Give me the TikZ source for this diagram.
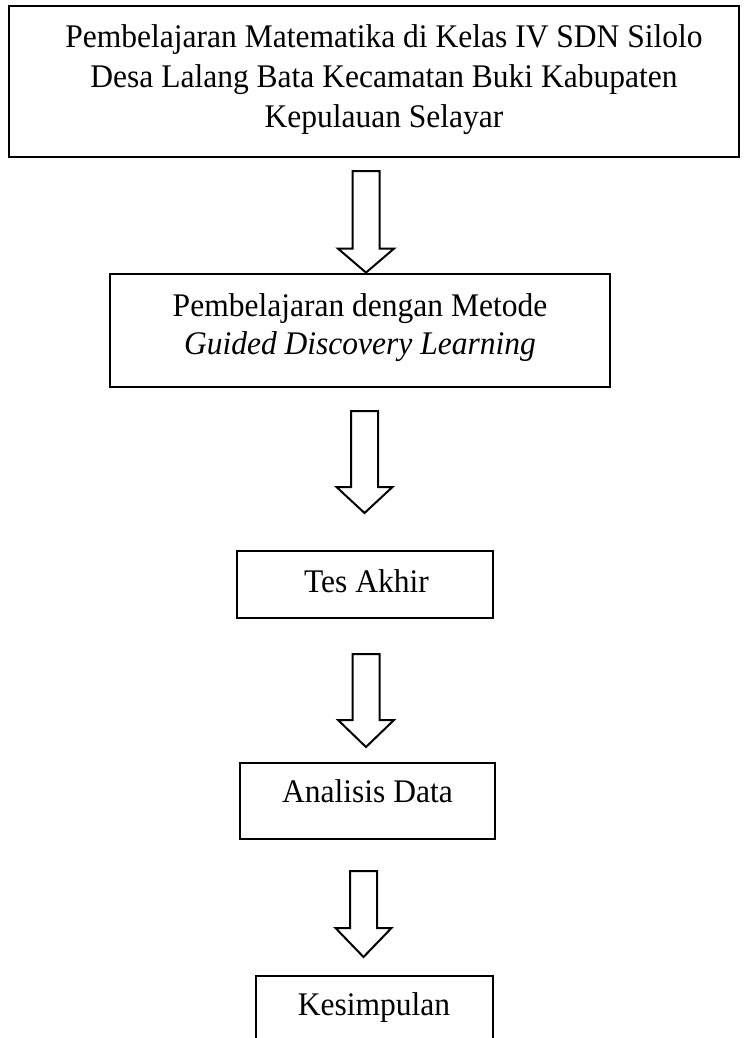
\documentclass[tikz,border=0pt]{standalone}
\usepackage{fontspec}
\setmainfont{Liberation Serif}[FakeStretch=0.955]
\usetikzlibrary{calc}
\tikzset{
  box/.style={draw=black, line width=2.8pt, inner sep=0pt, fill=white},
  blockarrow/.style={draw=black, line width=2pt, fill=white, line join=miter},
  txt/.style={inner sep=0pt, align=center, anchor=north},
  one/.style={inner sep=0pt, anchor=base, font=\fontsize{33}{38}\selectfont},
}
\newcommand\blockarr[3]{%
  \draw[blockarrow] let \p1=(#1), \p2=(#2) in
    (\x1-13.5,\y1) -- (\x1+13.5,\y1) -- (\x1+13.5,\y2+#3) -- (\x1+28,\y2+#3)
    -- (\x2,\y2) -- (\x1-28,\y2+#3) -- (\x1-13.5,\y2+#3) -- cycle;}
\begin{document}
\begin{tikzpicture}[x=1pt,y=-1pt]
\useasboundingbox (0,0) rectangle (744,1038);
\clip (0,0) rectangle (744,1038);
\fill[white] (0,0) rectangle (744,1038);
% boxes
\node[box, minimum width=730pt, minimum height=151pt] (b1) at (374,81.5) {};
\node[box, minimum width=500pt, minimum height=113pt] (b2) at (360,330.5) {};
\node[box, minimum width=256pt, minimum height=67pt] (b3) at (365,584.5) {};
\node[box, minimum width=255pt, minimum height=76pt] (b4) at (367.5,801) {};
\node[box, minimum width=237pt, minimum height=120pt] (b5) at (374.5,1036) {};
% texts
\node[txt, font=\fontsize{33}{40}\selectfont] (t1) at (384,19)
  {\strut Pembelajaran Matematika di Kelas IV SDN Silolo\\
   Desa Lalang Bata Kecamatan Buki Kabupaten\\
   Kepulauan Selayar};
\node[txt, font=\fontsize{33}{38}\selectfont] (t2) at (360,289.4)
  {\strut Pembelajaran dengan Metode\\ \textit{Guided Discovery Learning}};
\node[one] (t3) at (366.5,592) {Tes Akhir};
\node[one] (t4) at (367.5,802) {Analisis Data};
\node[one] (t5) at (374,1015) {Kesimpulan};
% arrow anchor points
\coordinate (a1s) at (366,171);   \coordinate (a1e) at ($(b2.north)+(6,0)$);
\coordinate (a2s) at (364.5,411); \coordinate (a2e) at (364.5,513);
\coordinate (a3s) at (366,654);   \coordinate (a3e) at (366,747);
\coordinate (a4s) at (363.5,871); \coordinate (a4e) at (363.5,957);
\blockarr{a1s}{a1e}{24}
\blockarr{a2s}{a2e}{26}
\blockarr{a3s}{a3e}{27}
\blockarr{a4s}{a4e}{29}
\end{tikzpicture}
\end{document}
